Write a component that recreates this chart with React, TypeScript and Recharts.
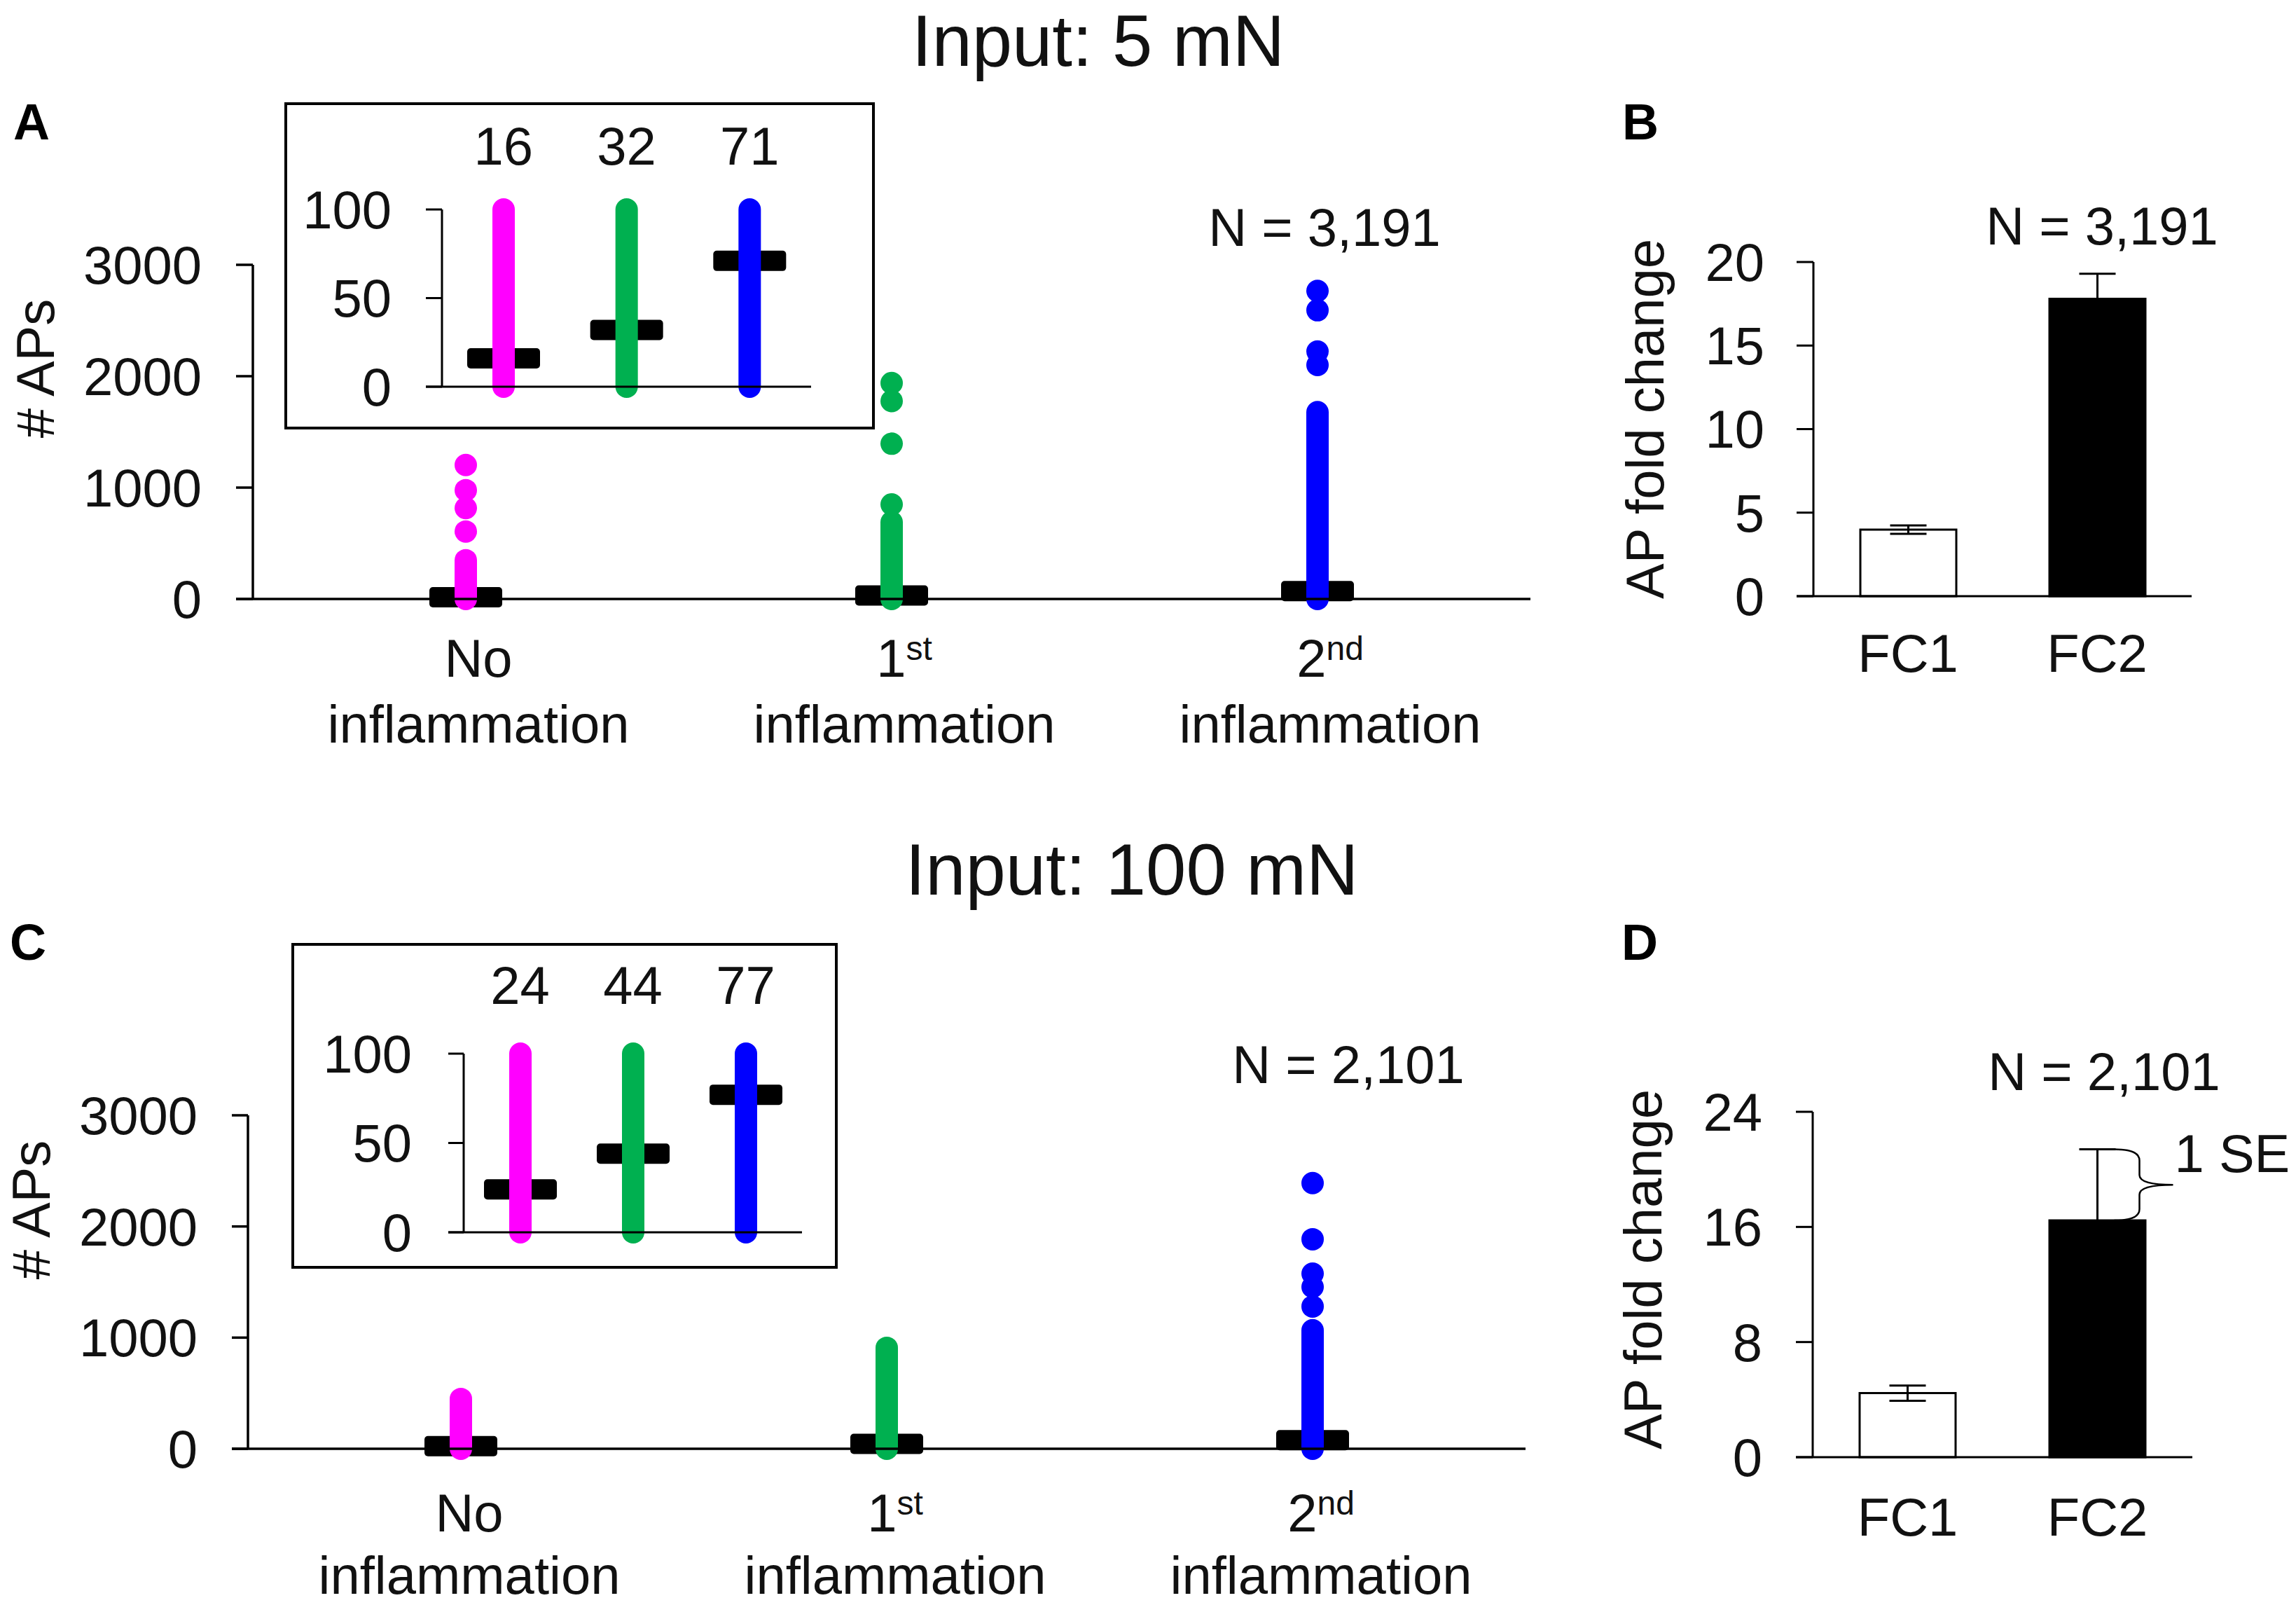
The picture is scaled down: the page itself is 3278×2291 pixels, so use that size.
import React from "react";
import {
  ComposedChart,
  Bar,
  Scatter,
  XAxis,
  YAxis,
  ReferenceLine,
  ReferenceArea,
  ErrorBar,
  Cell,
} from "recharts";

const FONT = '"Liberation Sans", Arial, Helvetica, sans-serif';
const INK = "#111";

// groups shared by the dot plots
const groups = ["No", "1st", "2nd"];
const groupColors = ["#ff00ff", "#00b050", "#0000ff"];

// Input: 5 mN
const median5 = [16, 32, 71];
const denseTop5 = [348, 690, 1677];
const outliers5No = [1203, 977, 816, 606];
const outliers5First = [1939, 1777, 1394, 849];
const outliers5Second = [2766, 2592, 2222, 2101];
const insetTop5 = [100, 100, 100];

// Input: 100 mN
const median100 = [24, 44, 77];
const denseTop100 = [448, 908, 1066];
const outliers100No: number[] = [];
const outliers100First: number[] = [];
const outliers100Second = [2390, 1885, 1576, 1456, 1280];
const insetTop100 = [100, 100, 100];

const apTicks = [0, 1000, 2000, 3000];
const insetTicks = [0, 50, 100];

// fold change bars
const fcCats = ["FC1", "FC2"];
const fc5 = [3.98, 17.8];
const fc5Se = [0.25, 1.5];
const fc100 = [4.45, 16.45];
const fc100Se = [0.53, 4.95];
const fc5Ticks = [0, 5, 10, 15, 20];
const fc100Ticks = [0, 8, 16, 24];
const fcFills = ["#ffffff", "#000000"];

const colorOf = (cat: string) => groupColors[groups.indexOf(cat)];

function dotRows(medians: number[], tops: number[], outliers: number[][]) {
  return groups.map((cat, i) => {
    const row: Record<string, any> = { cat, median: medians[i], top: tops[i] };
    outliers[i].forEach((v, k) => {
      row[`o${k}`] = v;
    });
    return row;
  });
}

// plot rectangle in page pixels -> chart box + margins
type Geo = {
  left: number; right: number; top: number; bottom: number;
  pad: number; yw: number; xh: number; th?: number; mr?: number;
};
function frame(g: Geo) {
  const ml = 10, mt = 60, mb = 10, mr = g.mr ?? 10;
  const th = g.th ?? 0;
  const left = g.left - g.yw - ml;
  const top = g.top - th - mt;
  const w = g.right + mr - left;
  const h = g.bottom + g.xh + mb - top;
  return {
    w, h,
    style: { position: "absolute" as const, left, top, width: w, height: h },
    margin: { top: mt, right: mr, bottom: mb, left: ml },
  };
}

const MedianShape = (p: any) => {
  const cx = p.x + p.width / 2;
  return <rect x={cx - 52} y={p.y - 14.5} width={104} height={29} rx={5} fill="#000" />;
};

const ColumnShape = (p: any) => {
  const cx = p.x + p.width / 2;
  return (
    <rect x={cx - 16} y={p.y - 16} width={32} height={p.height + 32} rx={16} fill={colorOf(p.payload.cat)} />
  );
};

const DotShape = (p: any) => {
  if (!Number.isFinite(p.cy) || !Number.isFinite(p.cx)) return <g />;
  return <circle cx={p.cx} cy={p.cy} r={16} fill={colorOf(p.payload.cat)} />;
};

function GroupTick(p: any) {
  const label = String(p.payload.value);
  const m = /^(\d)(st|nd|rd|th)$/.exec(label);
  const x = p.x + p.shiftX;
  return (
    <g>
      <text x={x} y={p.y + p.l1} textAnchor="middle" fontSize={76} fill={INK} fontFamily={FONT}>
        {m ? m[1] : label}
        {m && (
          <tspan fontSize={48} dy={-24}>
            {m[2]}
          </tspan>
        )}
      </text>
      <text x={x} y={p.y + p.l2} textAnchor="middle" fontSize={76} fill={INK} fontFamily={FONT}>
        inflammation
      </text>
    </g>
  );
}

const BraceShape = (p: any) => {
  const c = p.x + p.width / 2;
  const t = p.y;
  const b = p.y + p.height;
  const m = (t + b) / 2;
  const x0 = c + 24;
  const x1 = c + 60;
  const tip = c + 108;
  const d = `M${x0},${t} Q${x1},${t} ${x1},${t + 16} L${x1},${m - 14} Q${x1},${m} ${tip},${m} Q${x1},${m} ${x1},${m + 14} L${x1},${b - 16} Q${x1},${b} ${x0},${b}`;
  return (
    <g>
      <path d={d} fill="none" stroke="#000" strokeWidth={2.5} />
      <text x={tip + 2} y={m - 18} fontSize={76} fill={INK} fontFamily={FONT}>
        1 SE
      </text>
    </g>
  );
};

const tickFont = { fontSize: 76, fill: INK, fontFamily: FONT };

function DotPanel(props: {
  g: Geo; tm: number; rows: any[]; nOut: number; shiftX: number; l1: number; l2: number;
}) {
  const { g, tm, rows, nOut, shiftX, l1, l2 } = props;
  const f = frame(g);
  return (
    <div style={f.style}>
      <ComposedChart width={f.w} height={f.h} data={rows} margin={f.margin}>
        <XAxis
          xAxisId="cat"
          dataKey="cat"
          interval={0}
          padding={{ left: g.pad, right: 0 }}
          height={g.xh}
          axisLine={{ stroke: "#000", strokeWidth: 3.5 }}
          tickLine={false}
          tickSize={0}
          tickMargin={0}
          tick={(p: any) => <GroupTick {...p} shiftX={shiftX} l1={l1} l2={l2} />}
        />
        <XAxis xAxisId="col" dataKey="cat" hide padding={{ left: g.pad, right: 0 }} />
        <YAxis
          domain={[0, 3000]}
          ticks={apTicks}
          interval={0}
          width={g.yw}
          axisLine={false}
          stroke="#000"
          tickLine={{ stroke: "#000", strokeWidth: 3.5 }}
          tickSize={-g.pad}
          tickMargin={tm}
          tick={tickFont}
        />
        <ReferenceLine xAxisId="cat" x={groups[0]} position="start" stroke="#000" strokeWidth={3.5} />
        <Bar xAxisId="cat" dataKey="median" barSize={104} shape={MedianShape} isAnimationActive={false} />
        <Bar xAxisId="col" dataKey="top" barSize={32} shape={ColumnShape} isAnimationActive={false} />
        {Array.from({ length: nOut }, (_, k) => (
          <Scatter key={k} xAxisId="cat" dataKey={`o${k}`} shape={DotShape} isAnimationActive={false} />
        ))}
      </ComposedChart>
    </div>
  );
}

function InsetPanel(props: { g: Geo; tm: number; topTm: number; rows: any[]; medians: number[] }) {
  const { g, tm, topTm, rows, medians } = props;
  const f = frame(g);
  return (
    <div style={f.style}>
      <ComposedChart width={f.w} height={f.h} data={rows} margin={f.margin}>
        <XAxis
          xAxisId="top"
          orientation="top"
          dataKey="cat"
          interval={0}
          padding={{ left: g.pad, right: 0 }}
          height={g.th}
          axisLine={false}
          tickLine={false}
          tickSize={0}
          tickMargin={topTm}
          tick={tickFont}
          tickFormatter={(_: any, i: number) => String(medians[i])}
        />
        <XAxis
          xAxisId="cat"
          dataKey="cat"
          interval={0}
          padding={{ left: g.pad, right: 0 }}
          height={g.xh}
          axisLine={{ stroke: "#000", strokeWidth: 3 }}
          tickLine={false}
          tick={false}
        />
        <YAxis
          domain={[0, 100]}
          ticks={insetTicks}
          interval={0}
          width={g.yw}
          axisLine={false}
          stroke="#000"
          tickLine={{ stroke: "#000", strokeWidth: 3 }}
          tickSize={-g.pad}
          tickMargin={tm}
          tick={tickFont}
        />
        <ReferenceLine xAxisId="cat" x={groups[0]} position="start" stroke="#000" strokeWidth={3} />
        <Bar xAxisId="cat" dataKey="median" barSize={104} shape={MedianShape} isAnimationActive={false} />
        <Bar xAxisId="top" dataKey="top" barSize={32} shape={ColumnShape} isAnimationActive={false} />
      </ComposedChart>
    </div>
  );
}

function FoldPanel(props: {
  g: Geo; tm: number; xtm: number; vals: number[]; ses: number[]; ticks: number[]; brace?: boolean;
}) {
  const { g, tm, xtm, vals, ses, ticks, brace } = props;
  const f = frame(g);
  const rows = fcCats.map((cat, i) => ({ cat, v: vals[i], se: ses[i] }));
  return (
    <div style={f.style}>
      <ComposedChart width={f.w} height={f.h} data={rows} margin={f.margin}>
        <XAxis
          dataKey="cat"
          interval={0}
          padding={{ left: g.pad, right: 0 }}
          height={g.xh}
          axisLine={{ stroke: "#000", strokeWidth: 3 }}
          tickLine={false}
          tickSize={0}
          tickMargin={xtm}
          tick={tickFont}
        />
        <YAxis
          domain={[0, ticks[ticks.length - 1]]}
          ticks={ticks}
          interval={0}
          width={g.yw}
          axisLine={false}
          stroke="#000"
          tickLine={{ stroke: "#000", strokeWidth: 3 }}
          tickSize={-g.pad}
          tickMargin={tm}
          tick={tickFont}
        />
        <ReferenceLine x={fcCats[0]} position="start" stroke="#000" strokeWidth={3} />
        <Bar dataKey="v" barSize={137} stroke="#000" strokeWidth={3} isAnimationActive={false}>
          {rows.map((_, i) => (
            <Cell key={i} fill={fcFills[i]} />
          ))}
          <ErrorBar dataKey="se" width={26} stroke="#000" strokeWidth={3} direction="y" />
        </Bar>
        {brace && (
          <ReferenceArea
            x1={fcCats[1]}
            x2={fcCats[1]}
            y1={vals[1]}
            y2={vals[1] + ses[1]}
            ifOverflow="visible"
            shape={BraceShape}
          />
        )}
      </ComposedChart>
    </div>
  );
}

const geoMainA: Geo = { left: 337, right: 2185, top: 378, bottom: 855, pad: 24, yw: 260, xh: 260 };
const geoInsetA: Geo = { left: 608, right: 1158, top: 299, bottom: 552, pad: 23, yw: 185, xh: 50, th: 130 };
const geoB: Geo = { left: 2565, right: 3129, top: 374, bottom: 851, pad: 24, yw: 200, xh: 150 };
const geoMainC: Geo = { left: 331, right: 2178, top: 1592, bottom: 2068, pad: 23, yw: 260, xh: 240 };
const geoInsetC: Geo = { left: 640, right: 1145, top: 1504, bottom: 1759, pad: 22, yw: 200, xh: 50, th: 130 };
const geoD: Geo = { left: 2564, right: 3130, top: 1587, bottom: 2080, pad: 24, yw: 200, xh: 150, mr: 150 };

const box = (left: number, top: number, width: number, height: number) => ({
  position: "absolute" as const,
  left, top, width, height,
  boxSizing: "border-box" as const,
  border: "4px solid #000",
  background: "#fff",
});

export default function App() {
  const rowsA = dotRows(median5, denseTop5, [outliers5No, outliers5First, outliers5Second]);
  const rowsInsetA = dotRows(median5, insetTop5, [[], [], []]);
  const rowsC = dotRows(median100, denseTop100, [outliers100No, outliers100First, outliers100Second]);
  const rowsInsetC = dotRows(median100, insetTop100, [[], [], []]);
  const nOutA = Math.max(outliers5No.length, outliers5First.length, outliers5Second.length);
  const nOutC = Math.max(outliers100No.length, outliers100First.length, outliers100Second.length);

  return (
    <div
      style={{
        position: "absolute", left: 0, top: 0, width: 3278, height: 2291,
        overflow: "hidden", background: "#fff", fontFamily: FONT,
      }}
    >
      <DotPanel g={geoMainA} tm={73} rows={rowsA} nOut={nOutA} shiftX={18} l1={111} l2={205} />
      <div style={box(406, 146, 843, 467)} />
      <InsetPanel g={geoInsetA} tm={72} topTm={64} rows={rowsInsetA} medians={median5} />
      <FoldPanel g={geoB} tm={70} xtm={54} vals={fc5} ses={fc5Se} ticks={fc5Ticks} />

      <DotPanel g={geoMainC} tm={72} rows={rowsC} nOut={nOutC} shiftX={12} l1={118} l2={207} />
      <div style={box(416, 1346, 780, 465)} />
      <InsetPanel g={geoInsetC} tm={74} topTm={71} rows={rowsInsetC} medians={median100} />
      <FoldPanel g={geoD} tm={72} xtm={58} vals={fc100} ses={fc100Se} ticks={fc100Ticks} brace />

      <svg
        width={3278}
        height={2291}
        style={{ position: "absolute", left: 0, top: 0, pointerEvents: "none" }}
        fontFamily={FONT}
        fill={INK}
      >
        <text x={1568} y={94} fontSize={103} textAnchor="middle">Input: 5 mN</text>
        <text x={1616} y={1277} fontSize={103} textAnchor="middle">Input: 100 mN</text>

        <text x={19} y={199} fontSize={72} fontWeight="bold" fill="#000">A</text>
        <text x={2316} y={199} fontSize={72} fontWeight="bold" fill="#000">B</text>
        <text x={14} y={1370} fontSize={72} fontWeight="bold" fill="#000">C</text>
        <text x={2315} y={1370} fontSize={72} fontWeight="bold" fill="#000">D</text>

        <text transform="translate(77,526) rotate(-90)" fontSize={76} textAnchor="middle"># APs</text>
        <text transform="translate(71,1727) rotate(-90)" fontSize={76} textAnchor="middle"># APs</text>
        <text transform="translate(2375,598) rotate(-90)" fontSize={76} textAnchor="middle">AP fold change</text>
        <text transform="translate(2372,1812) rotate(-90)" fontSize={76} textAnchor="middle">AP fold change</text>

        <text x={1891} y={351} fontSize={76} textAnchor="middle">N = 3,191</text>
        <text x={3001} y={349} fontSize={76} textAnchor="middle">N = 3,191</text>
        <text x={1925} y={1546} fontSize={76} textAnchor="middle">N = 2,101</text>
        <text x={3004} y={1556} fontSize={76} textAnchor="middle">N = 2,101</text>
      </svg>
    </div>
  );
}
